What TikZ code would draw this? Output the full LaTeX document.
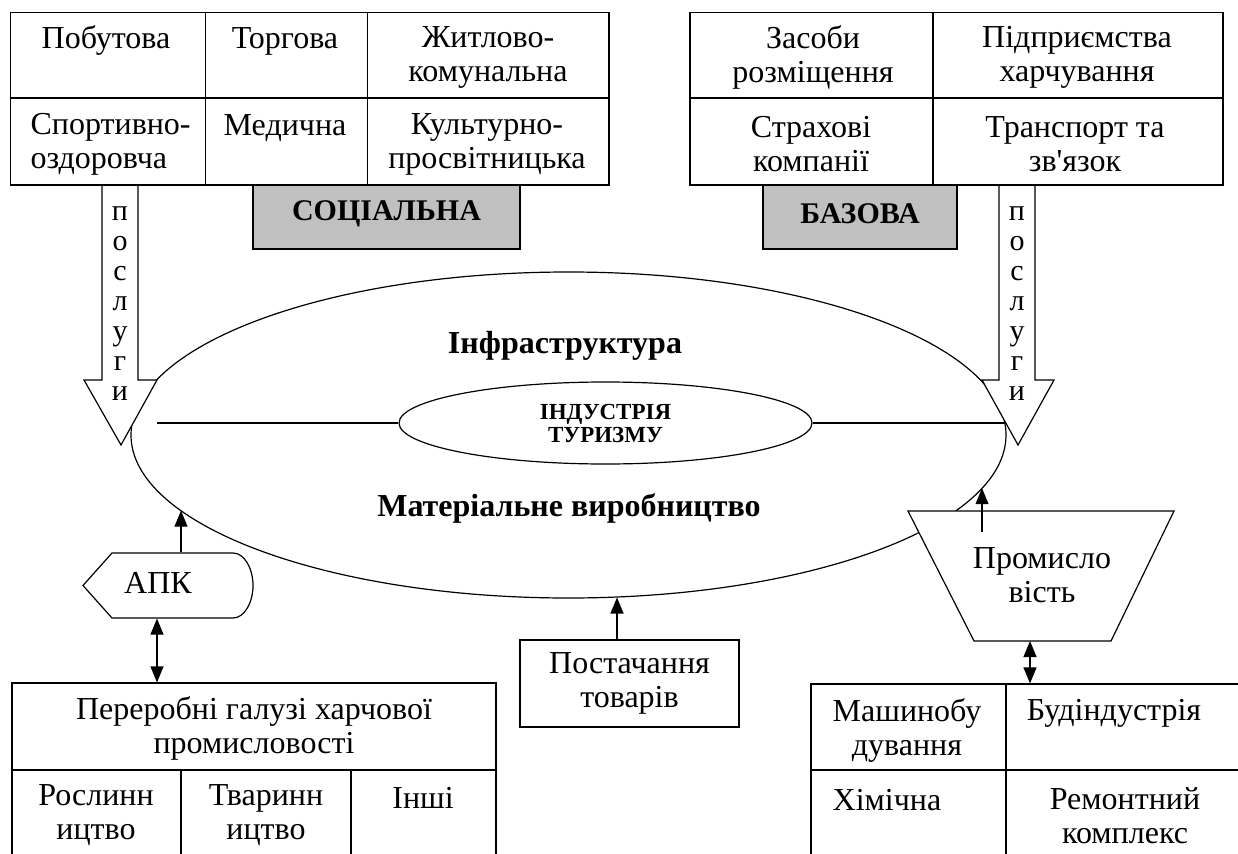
\documentclass[tikz,border=0pt]{standalone}
\usepackage{fontspec}
\setmainfont{Liberation Serif}
\usetikzlibrary{shapes.geometric,arrows.meta}
\newcommand{\normalsz}{\fontsize{32}{34}\selectfont}
\newcommand{\boldsz}{\fontsize{32}{34}\selectfont\bfseries}
\newcommand{\capsbold}{\fontsize{30}{34}\selectfont\bfseries}
\newcommand{\smallbold}{\fontsize{23}{23}\selectfont\bfseries}
\newcommand{\mycell}[5]{\node[cellst, minimum width={#4-#2}, minimum height={#5-#3}] (#1) at ({(#2+#4)/2},{(#3+#5)/2}) {};}
\definecolor{boxgrey}{RGB}{192,192,192}
\begin{document}
\begin{tikzpicture}[x=1pt,y=-1pt, line width=1.2pt,
  cellst/.style={draw, rectangle, inner sep=0},
  greybox/.style={draw, rectangle, inner sep=0, fill=boxgrey},
  txt/.style={inner sep=0, align=center, font=\normalsz},
  btxt/.style={inner sep=0, align=center, font=\boldsz},
  arr/.style={-{Triangle[length=16pt,width=13pt]}},
  darr/.style={{Triangle[length=16pt,width=13pt]}-{Triangle[length=16pt,width=13pt]}},
  blockarrow/.style={draw, fill=white, line join=miter},
  vlabel/.style={inner sep=0, align=center, font=\fontsize{30}{30}\selectfont}]
\useasboundingbox (0,0) rectangle (1238,853);
\clip (0,0) rectangle (1238,853);
\fill[white] (0,0) rectangle (1238,853);

% big ellipse
\node[draw, ellipse, minimum width=875, minimum height=326, inner sep=0] (big) at (568.5,435) {};
\node[draw, ellipse, minimum width=413, minimum height=82, inner sep=0, font=\smallbold, align=center] (ind) at (605.5,423) {ІНДУСТРІЯ\\ТУРИЗМУ};
\coordinate (hlL) at (157,423);
\coordinate (hlR) at (1005,423);
\draw (hlL) -- (ind.west);
\draw (ind.east) -- (hlR);
\node[btxt] (infra) at (565,346) {Інфраструктура};
\node[btxt] (mat) at (569,508) {Матеріальне виробництво};

% services arrows
\draw[blockarrow] (102,185) -- (102,380) -- (84,380) -- (121,445) -- (157,380) -- (138,380) -- (138,185) -- cycle;
\draw[blockarrow] (999,185) -- (999,380) -- (982,380) -- (1018,445) -- (1054,380) -- (1035,380) -- (1035,185) -- cycle;
\node[vlabel] (psL) at (120,304) {п\\о\\с\\л\\у\\г\\и};
\node[vlabel] (psR) at (1017,304) {п\\о\\с\\л\\у\\г\\и};

% top-left table
\mycell{tl11}{10.5}{12.5}{205.5}{98}
\mycell{tl12}{205.5}{12.5}{367.5}{98}
\mycell{tl13}{367.5}{12.5}{609}{98}
\mycell{tl21}{10.5}{98}{205.5}{185}
\mycell{tl22}{205.5}{98}{367.5}{185}
\mycell{tl23}{367.5}{98}{609}{185}
\node[txt] (t11) at (106,41) {Побутова};
\node[txt] (t12) at (285,41) {Торгова};
\node[txt] (t13) at (488,57) {Житлово-\\комунальна};
\node[txt, align=left, anchor=west] (t21) at (30,144) {Спортивно-\\оздоровча};
\node[txt] (t22) at (285,128) {Медична};
\node[txt] (t23) at (487,144) {Культурно-\\просвітницька};
\node[greybox, minimum width=267, minimum height=64] (soc) at (386.5,217) {};
\node[btxt, font=\capsbold] (soct) at (386.5,214) {СОЦІАЛЬНА};

% top-right table
\mycell{tr11}{690}{12.5}{933}{98}
\mycell{tr12}{933}{12.5}{1223}{98}
\mycell{tr21}{690}{98}{933}{185}
\mycell{tr22}{933}{98}{1223}{185}
\node[txt] (r11) at (813,57) {Засоби\\розміщення};
\node[txt] (r12) at (1077,57) {Підприємства\\харчування};
\node[txt] (r21) at (811,144) {Страхові\\компанії};
\node[txt] (r22) at (1075,144) {Транспорт та\\зв\textquotesingle язок};
\node[greybox, minimum width=194, minimum height=64] (baz) at (860,217) {};
\node[btxt, font=\capsbold] (bazt) at (860,214) {БАЗОВА};

% APK
\node[inner sep=0, minimum width=170, minimum height=65] (apk) at (168,585.5) {};
\draw (83,585.5) -- (112,553) -- (233,553) .. controls (244.05,553) and (253,567.9) .. (253,585.5) .. controls (253,603.1) and (244.05,618) .. (233,618) -- (112,618) -- cycle;
\node[txt] (apkt) at (158,583) {АПК};
\coordinate (apkIn) at (181,510.7);
\coordinate (apkX) at (157,600);
\draw[arr] (apk.north -| apkIn) -- (apkIn);

% bottom-left table
\mycell{bl1}{12}{683}{496}{770}
\mycell{bl21}{12}{770}{181}{880}
\mycell{bl22}{181}{770}{351}{880}
\mycell{bl23}{351}{770}{496}{880}
\node[txt] (b1) at (254,728) {Переробні галузі харчової\\промисловості};
\node[txt] (b21) at (96,815) {Рослинн\\ицтво};
\node[txt] (b22) at (266,815) {Тваринн\\ицтво};
\node[txt] (b23) at (423,798) {Інші};
\draw[darr] (apk.south -| apkX) -- (bl1.north -| apkX);

% supply
\node[draw, rectangle, minimum width=219, minimum height=87, inner sep=0, font=\normalsz, align=center] (post) at (629.5,683.5) {Постачання\\товарів};
\coordinate (postIn) at (617,597.5);
\draw[arr] (post.north -| postIn) -- (postIn);

% industry trapezoid
\draw[fill=white] (908,511) -- (1174,511) -- (1111,641) -- (974,641) -- cycle;
\node[txt] (prom) at (1042,575) {Промисло\\вість};
\coordinate (promOut) at (982,532);
\coordinate (promIn) at (982,488.2);
\draw[arr] (promOut) -- (promIn);
\coordinate (promBot) at (1030,641);

% bottom-right table
\mycell{br11}{811}{684}{1006}{770}
\mycell{br12}{1006}{684}{1244}{770}
\mycell{br21}{811}{770}{1006}{880}
\mycell{br22}{1006}{770}{1244}{880}
\node[txt] (m11) at (907,730) {Машинобу\\дування};
\node[txt] (m12) at (1114,713) {Будіндустрія};
\node[txt] (m21) at (887,800) {Хімічна};
\node[txt] (m22) at (1125,816) {Ремонтний\\комплекс};
\draw[darr] (promBot) -- (br12.north -| promBot);
\end{tikzpicture}
\end{document}
